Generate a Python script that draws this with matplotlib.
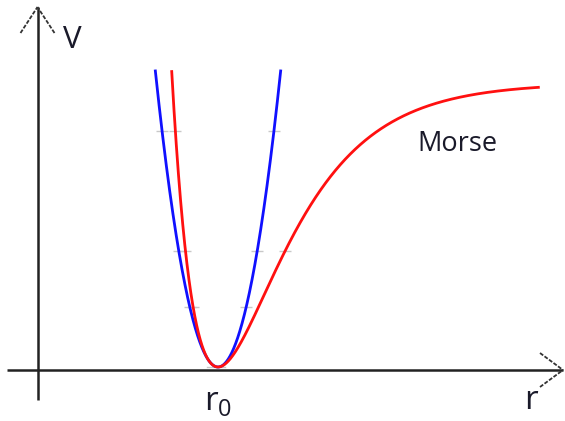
import numpy as np
import matplotlib
matplotlib.use("Agg")
import matplotlib.pyplot as plt

# ---------------------------
# Curve parameters (r in units of r0, V in units of De)
# ---------------------------
r0 = 1.0            # equilibrium distance
De = 1.0            # well depth (Morse asymptote)
a_morse = 2.75      # Morse width parameter
k_harm = 8.7        # harmonic spring constant
v_top = 1.045       # both curves are cut here
r_max_morse = 2.77  # right end of the Morse curve

# faint grey construction ticks left on the curves in the original drawing
tick_levels = [0.83, 0.41, 0.21]

labels = {"V": "V", "r": "r", "r0": "r", "r0_sub": "0", "morse": "Morse"}

# pixel scale of the original drawing
PX_X = 181.0   # pixels per unit of r
PX_Y = 284.0   # pixels per unit of V
X0_PX, Y0_PX = 37.0, 367.0
W, H = 565, 421


def px(x, y):
    """Pixel position (from top-left) -> data coordinates."""
    return (x - X0_PX) / PX_X, (Y0_PX - y) / PX_Y


fig = plt.figure(figsize=(W / 100, H / 100), dpi=100)
ax = fig.add_axes([0, 0, 1, 1])
ax.set_xlim(px(0, 0)[0], px(W, 0)[0])
ax.set_ylim(px(0, H)[1], px(0, 0)[1])
ax.axis("off")

# ---- axes with open arrow heads ----
axis_kw = dict(color="#222222", lw=1.8, solid_capstyle="butt")
x_ax_y = px(0, 370)[1]
y_ax_x = px(37.5, 0)[0]
ax.plot([px(7, 0)[0], px(563, 0)[0]], [x_ax_y, x_ax_y], **axis_kw)
ax.plot([y_ax_x, y_ax_x], [px(0, 400)[1], px(0, 7)[1]], **axis_kw)

head_kw = dict(color="#333333", lw=1.3, ls=(0, (2.2, 0.9)))
tip = px(563, 370)
for dy in (-17, 17):
    end = px(540, 370 + dy)
    ax.plot([end[0], tip[0]], [end[1], tip[1]], **head_kw)
tip = px(37.5, 7)
for dx in (-17, 17):
    end = px(37.5 + dx, 33)
    ax.plot([end[0], tip[0]], [end[1], tip[1]], **head_kw)

# ---- grey construction ticks ----
tick_kw = dict(color="#c8c8c8", marker="_", ms=8, mew=1.0, ls="none", zorder=1)
for lv in tick_levels:
    d = np.sqrt(lv / k_harm)
    ax.plot([r0 - d, r0 + d], [lv, lv], **tick_kw)
    ax.plot([r0 - np.log(1 + np.sqrt(lv)) / a_morse], [lv], **tick_kw)
lv = tick_levels[1]
ax.plot([r0 - np.log(1 - np.sqrt(lv)) / a_morse], [lv], **tick_kw)
ax.plot([r0 - 0.06, r0 + 0.04], [0, 0], color="#c8c8c8", lw=1.0, zorder=1)

# ---- harmonic potential (blue) ----
r = np.linspace(0.3, 1.7, 3000)
v_h = k_harm * (r - r0) ** 2
v_h = np.where(v_h <= v_top, v_h, np.nan)
ax.plot(r, v_h, color="#1010ff", lw=2.0)

# ---- Morse potential (red) ----
r = np.linspace(0.6, r_max_morse, 4000)
v_m = De * (1 - np.exp(-a_morse * (r - r0))) ** 2
v_m = np.where(v_m <= v_top, v_m, np.nan)
ax.plot(r, v_m, color="#ff1010", lw=2.0)

# ---- labels ----
font = "Open Sans"
txt = dict(family=font, color="#1a1a2a", va="baseline", ha="left")
ax.text(*px(63, 48), labels["V"], fontsize=22.5, **txt)
ax.text(*px(524, 409), labels["r"], fontsize=24, **txt)
ax.text(*px(204, 410), labels["r0"], fontsize=24, **txt)
ax.text(*px(218, 416), labels["r0_sub"], fontsize=17, **txt)
ax.text(*px(417, 151), labels["morse"], fontsize=19.5, **txt)

fig.savefig("out.png", dpi=100)
